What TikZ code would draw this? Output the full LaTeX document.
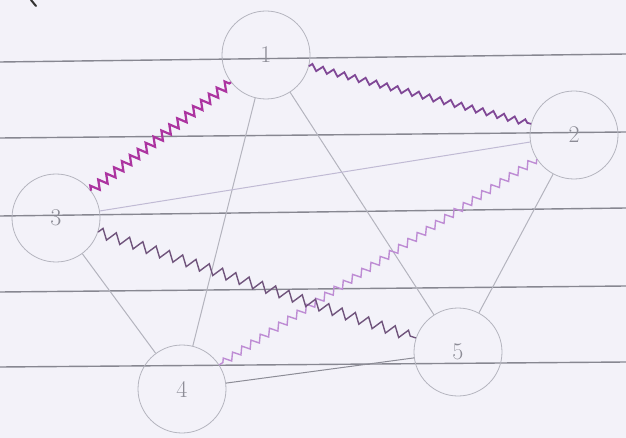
\documentclass[tikz,border=0pt]{standalone}
\usetikzlibrary{decorations.pathmorphing}
\definecolor{paper}{RGB}{243,242,249}
\definecolor{ruled}{RGB}{135,135,145}
\definecolor{pencil}{RGB}{180,180,190}
\definecolor{pencildark}{RGB}{140,140,150}
\definecolor{lavline}{RGB}{192,186,212}
\definecolor{magz}{RGB}{172,52,160}
\definecolor{purz}{RGB}{128,72,150}
\definecolor{greyz}{RGB}{112,84,124}
\definecolor{lilz}{RGB}{190,140,212}
\definecolor{digit}{RGB}{140,140,150}
\tikzset{
  ruledline/.style={draw=ruled, line width=1.4pt},
  vtx/.style={circle, draw=pencil, line width=0.8pt, minimum size=88pt, inner sep=0pt,
    text=digit, font=\fontsize{24}{24}\selectfont},
  plainedge/.style={draw=pencil, line width=1pt},
  zzmag/.style={draw=magz, line width=2.2pt, decorate,
    decoration={zigzag, segment length=10pt, amplitude=4.5pt}},
  zzpur/.style={draw=purz, line width=1.8pt, decorate,
    decoration={zigzag, segment length=11pt, amplitude=3pt}},
  zzgrey/.style={draw=greyz, line width=1.4pt, decorate,
    decoration={zigzag, segment length=14pt, amplitude=5pt}},
  zzlil/.style={draw=lilz, line width=1.4pt, decorate,
    decoration={zigzag, segment length=11pt, amplitude=3.5pt}}
}
\begin{document}
\begin{tikzpicture}[x=1pt,y=-1pt]
  \fill[paper] (0,0) rectangle (626,438);
  \useasboundingbox (0,0) rectangle (626,438);
  % ruled paper lines
  \draw[ruledline] (0,62) -- (626,54);
  \draw[ruledline] (0,138) -- (626,132);
  \draw[ruledline] (0,216) -- (626,208);
  \draw[ruledline] (0,292) -- (626,286);
  \draw[ruledline] (0,367) -- (626,362);
  % pen mark top-left
  \draw[black!80, line width=2pt, line cap=round] (31,0) -- (36,6);
  % vertices
  \node[vtx] (n1) at (266,55) {1};
  \node[vtx] (n2) at (574,135) {2};
  \node[vtx] (n3) at (56,218) {3};
  \node[vtx] (n4) at (182,389) {4};
  \node[vtx] (n5) at (458,352) {5};
  % plain edges
  \draw[plainedge] (n1) -- (n4);
  \draw[plainedge] (n1) -- (n5);
  \draw[plainedge, draw=lavline] (n3) -- (n2);
  \draw[plainedge] (n3) -- (n4);
  \draw[plainedge, draw=pencildark] (n4) -- (n5);
  \draw[plainedge] (n2) -- (n5);
  % zigzag edges
  \draw[zzlil] (n2) -- (n4);
  \draw[zzgrey] (n3) -- (n5);
  \draw[zzpur] (n1) -- (n2);
  \draw[zzmag] (n3) -- (n1);
\end{tikzpicture}
\end{document}
